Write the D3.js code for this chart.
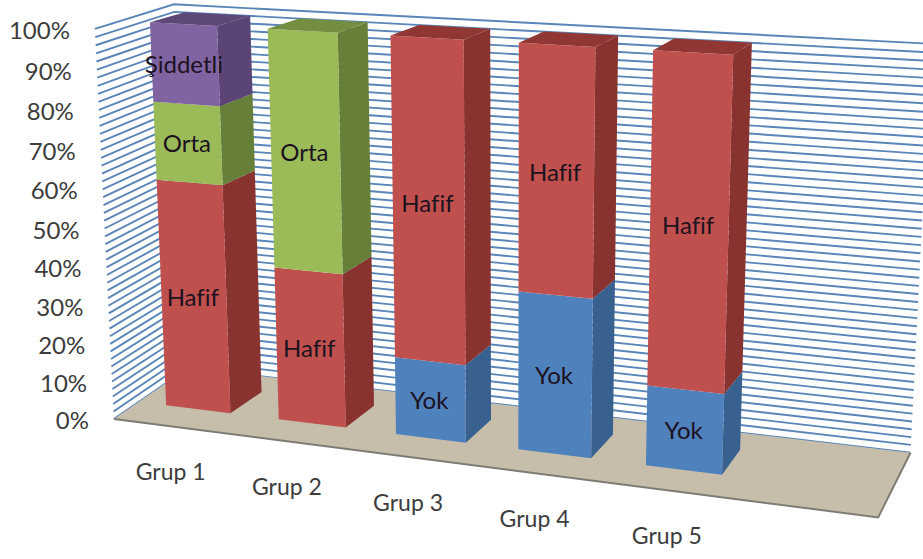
<!DOCTYPE html>
<html lang="tr">
<head>
<meta charset="utf-8">
<style>
  html, body { margin: 0; background: #fff; }
  svg { display: block; font-family: Lato, "Open Sans", sans-serif; }
</style>
<script src="https://cdn.jsdelivr.net/npm/d3@7"></script>
</head>
<body>
<svg id="chart" width="923" height="559"></svg>
<script>
// Percentage shares per group
const categories = ["Grup 1", "Grup 2", "Grup 3", "Grup 4", "Grup 5"];
const seriesNames = ["Yok", "Hafif", "Orta", "Şiddetli"];
const yok      = [0, 0, 20, 40, 20];
const hafif    = [60, 40, 80, 60, 80];
const orta     = [20, 60, 0, 0, 0];
const siddetli = [20, 0, 0, 0, 0];
const percentTicks = [0, 10, 20, 30, 40, 50, 60, 70, 80, 90, 100];
const gridStep = 2;

const palette = {
  "Yok":      { front: "#4f81bd", side: "#39618f", top: "#3f6a9c" },
  "Hafif":    { front: "#c0504d", side: "#88332f", top: "#913733" },
  "Orta":     { front: "#9bbb59", side: "#66803a", top: "#738e41" },
  "Şiddetli": { front: "#8064a2", side: "#5b4576", top: "#5d4878" }
};

const rows = categories.map((name, i) => ({
  name, "Yok": yok[i], "Hafif": hafif[i], "Orta": orta[i], "Şiddetli": siddetli[i]
}));
const stacked = d3.stack().keys(seriesNames)(rows);

// Perspective camera: world x (left-right), h (up), z (into the page), all in 0..1
const cam = [656.23378, -23.38451, 96.68149, 113.9053,
             34.79304, -391.32687, -22.73669, 418.9222,
             -0.12304, -0.04605, 0.07506];
function project(x, h, z) {
  const w = cam[8] * x + cam[9] * h + cam[10] * z + 1;
  return [(cam[0] * x + cam[1] * h + cam[2] * z + cam[3]) / w,
          (cam[4] * x + cam[5] * h + cam[6] * z + cam[7]) / w];
}

const xBand = d3.scaleBand()
  .domain(categories)
  .range([0.03747, 0.03747 + 4 * 0.1662 + 0.09573])
  .paddingInner(1 - 0.09573 / 0.1662)
  .paddingOuter(0);
const hScale = d3.scaleLinear().domain([0, 100]).range([0, 1]);
const barFront = 0.31902, barBack = 0.72618;
const cornerX = -0.012;   // left end of the back wall

const svg = d3.select("#chart");
const line = d3.line();
const poly = pts => line(pts) + "Z";

// Wall gridlines
const gridValues = d3.range(0, 100 + gridStep, gridStep);
svg.append("g").selectAll("path").data(gridValues).join("path")
  .attr("d", v => {
    const h = hScale(v);
    return line([project(0, h, 0), project(cornerX, h, 1), project(1, h, 1)]);
  })
  .attr("fill", "none")
  .attr("stroke", "#5a85b8")
  .attr("stroke-width", 1.9);

// Floor
svg.append("path")
  .attr("d", poly([project(0, 0, 0), project(1, 0, 0), project(1, 0, 1), project(cornerX, 0, 1)]))
  .attr("fill", "#c6beab");
svg.append("path")
  .attr("d", line([project(0, 0, 0), project(1, 0, 0), project(1, 0, 1)]))
  .attr("fill", "none")
  .attr("stroke", "#7d7c74")
  .attr("stroke-width", 2);

// Stacked columns, drawn left to right and bottom to top
const bars = svg.append("g");
categories.forEach((cat, i) => {
  const x0 = xBand(cat), x1 = x0 + xBand.bandwidth();
  const segs = stacked.filter(s => s[i][1] > s[i][0]);
  segs.forEach((s, k) => {
    const h0 = hScale(s[i][0]), h1 = hScale(s[i][1]);
    const c = palette[s.key];
    bars.append("path")
      .attr("d", poly([project(x1, h0, barFront), project(x1, h0, barBack),
                       project(x1, h1, barBack), project(x1, h1, barFront)]))
      .attr("fill", c.side);
    bars.append("path")
      .attr("d", poly([project(x0, h0, barFront), project(x1, h0, barFront),
                       project(x1, h1, barFront), project(x0, h1, barFront)]))
      .attr("fill", c.front);
    if (k === segs.length - 1) {
      bars.append("path")
        .attr("d", poly([project(x0, h1, barFront), project(x1, h1, barFront),
                         project(x1, h1, barBack), project(x0, h1, barBack)]))
        .attr("fill", c.top);
    }
  });
});

// Series name in the middle of each front face
categories.forEach((cat, i) => {
  const xm = xBand(cat) + xBand.bandwidth() / 2;
  stacked.filter(s => s[i][1] > s[i][0]).forEach(s => {
    const p = project(xm, hScale((s[i][0] + s[i][1]) / 2), barFront);
    svg.append("text")
      .attr("x", p[0] - 1).attr("y", p[1] + 9)
      .attr("text-anchor", "middle")
      .attr("font-size", 24)
      .attr("fill", "#1c1220")
      .text(s.key);
  });
});

// Percent axis following the front edge of the left wall
svg.append("g").selectAll("text").data(percentTicks).join("text")
  .attr("x", v => project(0, hScale(v), 0)[0] - 25)
  .attr("y", v => project(0, hScale(v), 0)[1] + 10)
  .attr("text-anchor", "end")
  .attr("font-size", 24)
  .attr("fill", "#3c3c3c")
  .text(v => v + "%");

// Group names below the front edge of the floor
svg.append("g").selectAll("text").data(categories).join("text")
  .attr("x", c => project(xBand(c) + xBand.bandwidth() / 2, 0, 0)[0] - 1)
  .attr("y", c => project(xBand(c) + xBand.bandwidth() / 2, 0, 0)[1] + 54)
  .attr("text-anchor", "middle")
  .attr("font-size", 23)
  .attr("fill", "#3c3c3c")
  .text(c => c);
</script>
</body>
</html>
